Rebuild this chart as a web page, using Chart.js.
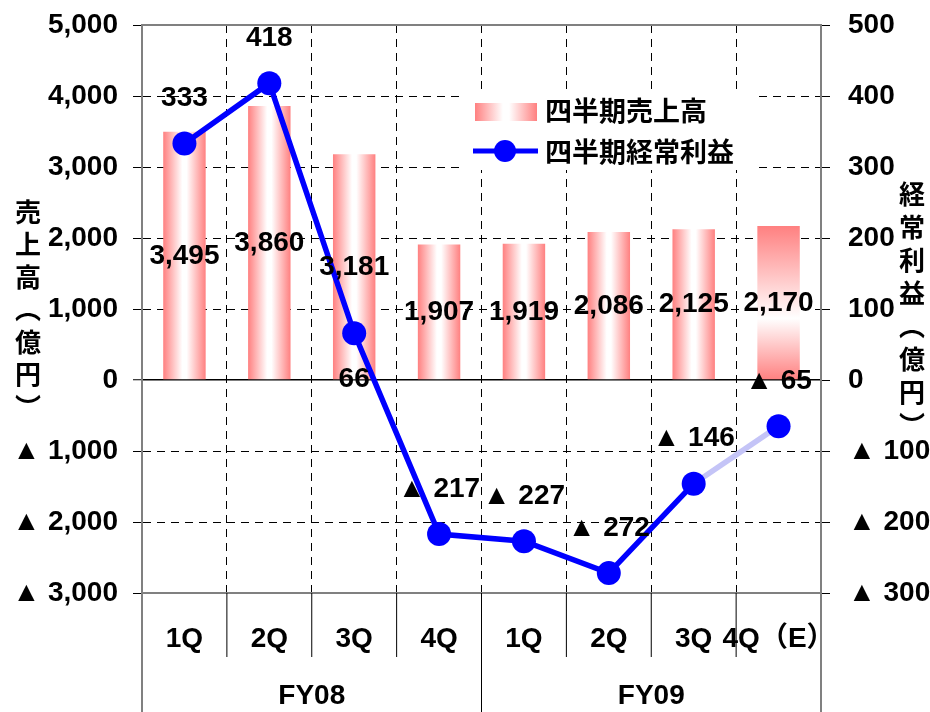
<!DOCTYPE html>
<html>
<head>
<meta charset="utf-8">
<script src="https://cdn.jsdelivr.net/npm/chart.js@4.4.0/dist/chart.umd.min.js"></script>
<style>
  html, body { margin: 0; padding: 0; background: #fff; }
  canvas { display: block; }
</style>
</head>
<body>
<canvas id="chart" width="930" height="712"></canvas>
<script>
// 四半期ラベル
const quarters = ['1Q', '2Q', '3Q', '4Q', '1Q', '2Q', '3Q', '4Q（E）'];
// 年度ラベル（各4四半期）
const fiscalYears = ['FY08', 'FY09'];
const quartersPerYear = 4;
// 四半期売上高（億円）
const sales = [3495, 3860, 3181, 1907, 1919, 2086, 2125, 2170];
// 四半期経常利益（億円）
const ordinaryProfit = [333, 418, 66, -217, -227, -272, -146, -65];
// 軸の範囲 [min, max, step]
const salesAxis = [-3000, 5000, 1000];
const profitAxis = [-300, 500, 100];

const FONT = '"Liberation Sans", Arial, "Noto Sans CJK JP", sans-serif';
const JP_FONT = '"Noto Sans CJK JP", sans-serif';
const RED = '#ff8080';
const DASH = [8, 6];

// マイナスは▲表記
function fmt(v) {
  const s = Math.abs(v).toLocaleString('en-US');
  return v < 0 ? '▲ ' + s : s;
}

// 棒のグラデーション（最後の見込みは縦方向）
function barFill(context) {
  const chart = context.chart;
  const { ctx, chartArea, scales } = chart;
  if (!chartArea || context.dataIndex === undefined) return RED;
  const i = context.dataIndex;
  const cx = scales.x.getPixelForValue(i);
  const half = scales.x.width / quarters.length * 0.5 / 2;
  let g;
  if (i === quarters.length - 1) {
    const top = scales.y.getPixelForValue(sales[i]);
    const base = scales.y.getPixelForValue(0);
    g = ctx.createLinearGradient(0, top, 0, base);
    g.addColorStop(0, RED);
    g.addColorStop(0.6, '#ffffff');
    g.addColorStop(1, RED);
  } else {
    g = ctx.createLinearGradient(cx - half, 0, cx + half, 0);
    g.addColorStop(0, RED);
    g.addColorStop(0.45, '#ffffff');
    g.addColorStop(0.55, '#ffffff');
    g.addColorStop(1, RED);
  }
  return g;
}

// 縦軸の固定幅（上下の余白はレイアウトで指定）
function fixWidth(w) {
  return s => {
    s.width = w;
    s.paddingTop = 0;
    s.paddingBottom = 0;
  };
}

const decor = {
  id: 'decor',
  beforeDatasetsDraw(chart) {
    const { ctx, chartArea: a } = chart;
    ctx.save();
    ctx.strokeStyle = '#808080';
    ctx.lineWidth = 2;
    ctx.beginPath();
    ctx.moveTo(a.left, a.top); ctx.lineTo(a.right, a.top);
    ctx.moveTo(a.left, a.bottom); ctx.lineTo(a.right, a.bottom);
    ctx.stroke();
    ctx.restore();
  },
  afterDatasetsDraw(chart) {
    const { ctx, chartArea: a, scales } = chart;
    const x = scales.x, y = scales.y, y1 = scales.y1;
    ctx.save();
    ctx.fillStyle = '#000';
    ctx.textAlign = 'center';
    ctx.textBaseline = 'middle';
    ctx.font = 'bold 28px ' + FONT;

    // 売上高ラベル（棒の中央）
    sales.forEach((v, i) => {
      const px = x.getPixelForValue(i);
      const py = (y.getPixelForValue(v) + y.getPixelForValue(0)) / 2;
      ctx.fillText(fmt(v), px, py);
    });

    // 経常利益ラベル
    ordinaryProfit.forEach((v, i) => {
      const px = x.getPixelForValue(i);
      const py = y1.getPixelForValue(v);
      const below = i === 2;
      ctx.fillText(fmt(v), px, below ? py + 46 : py - 45);
    });

    // 凡例
    const lx = 464, ly = 92;
    ctx.fillStyle = '#fff';
    ctx.fillRect(lx, ly, 293, 78);
    const g = ctx.createLinearGradient(475, 0, 537, 0);
    g.addColorStop(0, RED);
    g.addColorStop(0.45, '#fff');
    g.addColorStop(0.55, '#fff');
    g.addColorStop(1, RED);
    ctx.fillStyle = g;
    ctx.fillRect(475, 103, 62, 18);
    ctx.strokeStyle = '#0000ff';
    ctx.lineWidth = 5;
    ctx.beginPath();
    ctx.moveTo(473, 151); ctx.lineTo(538, 151);
    ctx.stroke();
    ctx.fillStyle = '#0000ff';
    ctx.beginPath();
    ctx.arc(505, 151, 11, 0, Math.PI * 2);
    ctx.fill();
    ctx.fillStyle = '#000';
    ctx.textAlign = 'left';
    ctx.font = 'bold 27px ' + JP_FONT;
    ctx.fillText(chart.data.datasets[1].label, 545, 111);
    ctx.fillText(chart.data.datasets[0].label, 545, 152);
    ctx.restore();
  },
  afterDraw(chart) {
    const { ctx, chartArea: a, scales } = chart;
    const x = scales.x;
    const step = x.width / quarters.length;
    const H = chart.height;
    ctx.save();

    // 下部の区切り線
    for (let i = 0; i <= quarters.length; i++) {
      const bx = x.left + step * i;
      const isYear = i % quartersPerYear === 0;
      const edge = i === 0 || i === quarters.length;
      ctx.strokeStyle = edge ? '#808080' : '#000';
      ctx.lineWidth = edge ? 2 : 1;
      ctx.beginPath();
      ctx.moveTo(bx, a.bottom);
      ctx.lineTo(bx, isYear ? H : a.bottom + 64);
      ctx.stroke();
    }

    // 年度ラベル
    ctx.fillStyle = '#000';
    ctx.textAlign = 'center';
    ctx.textBaseline = 'middle';
    ctx.font = 'bold 28px ' + FONT;
    fiscalYears.forEach((fy, k) => {
      const cx = x.left + step * quartersPerYear * (k + 0.5);
      ctx.fillText(fy, cx, 696);
    });

    // 縦書きの軸タイトル
    ctx.font = 'bold 26px ' + JP_FONT;
    const leftTitle = ['売', '上', '高', '︵', '億', '円', '︶'];
    leftTitle.forEach((c, k) => ctx.fillText(c, 28, 212 + k * 32.5));
    const rightTitle = ['経', '常', '利', '益', '︵', '億', '円', '︶'];
    rightTitle.forEach((c, k) => ctx.fillText(c, 912, 194 + k * 33));
    ctx.restore();
  }
};

const tickFont = { family: FONT, size: 28, weight: 'bold' };

new Chart(document.getElementById('chart'), {
  type: 'bar',
  data: {
    labels: quarters,
    datasets: [
      {
        type: 'line',
        label: '四半期経常利益',
        data: ordinaryProfit,
        yAxisID: 'y1',
        borderColor: '#0000ff',
        borderWidth: 5.5,
        pointRadius: 12,
        pointBackgroundColor: '#0000ff',
        pointBorderWidth: 0,
        segment: {
          borderColor: c => c.p1DataIndex === ordinaryProfit.length - 1 ? '#c4c4f7' : '#0000ff'
        },
        order: 0
      },
      {
        label: '四半期売上高',
        data: sales,
        yAxisID: 'y',
        backgroundColor: barFill,
        barPercentage: 0.5,
        categoryPercentage: 1,
        order: 1
      }
    ]
  },
  options: {
    responsive: false,
    animation: false,
    layout: { padding: { top: 25, left: 0, right: 0, bottom: 0 } },
    plugins: {
      legend: { display: false },
      tooltip: { enabled: false }
    },
    scales: {
      x: {
        grid: { color: '#000', lineWidth: 1, drawTicks: false, offset: true },
        border: { display: false, dash: DASH },
        ticks: { font: tickFont, color: '#000', padding: 29, maxRotation: 0, autoSkip: false },
        afterFit: s => { s.height = 119; }
      },
      y: {
        position: 'left',
        min: salesAxis[0],
        max: salesAxis[1],
        ticks: { stepSize: salesAxis[2], callback: fmt, font: tickFont, color: '#000', padding: 15 },
        grid: {
          color: c => (c.tick && (c.tick.value === salesAxis[0] || c.tick.value === salesAxis[1])) ? 'rgba(0,0,0,0)' : '#000',
          lineWidth: c => c.tick && c.tick.value === 0 ? 1.5 : 1,
          tickLength: 9,
          tickColor: '#000',
          tickBorderDash: [],
          tickWidth: 1
        },
        border: { color: '#808080', width: 2, dash: c => (c.tick && c.tick.value !== 0) ? DASH : [] },
        afterFit: fixWidth(142)
      },
      y1: {
        position: 'right',
        min: profitAxis[0],
        max: profitAxis[1],
        ticks: { stepSize: profitAxis[2], callback: fmt, font: tickFont, color: '#000', padding: 18 },
        grid: { drawOnChartArea: false, tickLength: 9, tickColor: '#000', tickBorderDash: [] },
        border: { color: '#808080', width: 2 },
        afterFit: fixWidth(109)
      }
    }
  },
  plugins: [decor]
});
</script>
</body>
</html>
